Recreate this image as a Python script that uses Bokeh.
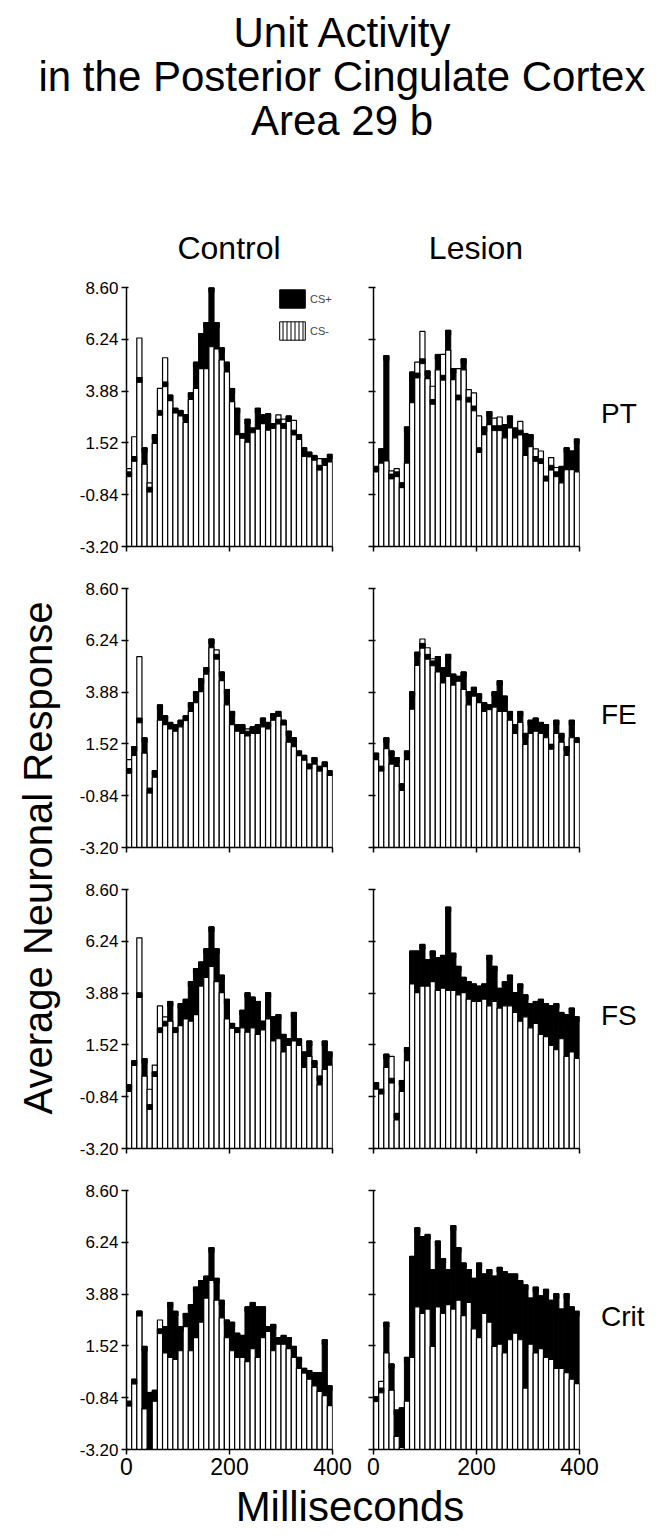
from bokeh.plotting import figure
from bokeh.layouts import column, row
from bokeh.models import (Range1d, FixedTicker, PrintfTickFormatter, CustomJSTickFormatter,
                          Legend, LegendItem, ColumnDataSource, Div)
from bokeh.embed import file_html
from bokeh.resources import INLINE

# ---------------- data (10 ms bins, 0-400 ms) ----------------
bin_centers = [5 + 10 * i for i in range(40)]
y_ticks = [-3.20, -0.84, 1.52, 3.88, 6.24, 8.60]
x_ticks = [0, 200, 400]
title_lines = ["Unit Activity", "in the Posterior Cingulate Cortex", "Area 29 b"]
column_names = ["Control", "Lesion"]
row_names = ["PT", "FE", "FS", "Crit"]
y_title = "Average Neuronal Response"
x_title = "Milliseconds"

pt_control_csplus = [0.2, 0.9, 4.5, 1.3, -0.5, 1.9, 3.0, 4.3, 3.7, 3.1, 3.0, 2.8, 3.8, 5.2, 6.5, 7.0, 8.6, 7.0, 5.85, 5.2,
                     4.0, 3.1, 1.95, 2.6, 2.2, 3.1, 2.8, 2.85, 2.4, 2.6, 2.4, 2.75, 2.1, 1.9, 1.3, 1.1, 0.95, 0.5, 0.8, 1.0]
pt_control_csminus = [0.35, 1.8, 6.3, 0.55, -0.3, 1.5, 4.0, 5.4, 3.45, 2.95, 2.75, 2.45, 3.5, 4.0, 4.9, 4.9, 5.9, 5.8, 5.3, 4.75,
                      3.4, 1.9, 1.8, 1.55, 2.1, 2.15, 2.4, 2.1, 2.4, 2.8, 2.6, 2.5, 2.55, 1.7, 0.9, 0.9, 0.9, 0.8, 0.5, 0.65]
pt_lesion_csplus = [0.45, 1.25, 5.5, 0.1, 0.2, -0.3, 2.25, 4.75, 4.7, 5.35, 4.8, 3.5, 5.55, 4.6, 6.65, 4.9, 3.7, 5.35, 3.6, 3.2,
                    1.3, 2.25, 2.95, 2.3, 2.3, 2.35, 2.75, 2.2, 2.1, 1.95, 1.9, 0.9, 0.8, 0.0, 0.5, 0.2, 0.45, 1.3, 1.15, 1.7]
pt_lesion_csminus = [0.2, 0.6, 0.7, 0.25, 0.35, -0.5, 0.6, 3.35, 5.2, 6.6, 4.45, 4.1, 4.85, 5.55, 5.75, 4.4, 4.9, 4.85, 3.95, 3.8,
                     2.75, 1.9, 2.35, 2.65, 2.7, 1.75, 2.2, 1.75, 2.5, 0.95, 1.35, 1.25, 1.15, -0.1, 0.85, 0.4, -0.3, 0.3, 0.3, 0.2]

fe_control_csplus = [0.4, 1.4, 2.7, 1.8, -0.5, 0.3, 3.3, 2.8, 2.5, 2.4, 2.6, 2.8, 3.4, 3.9, 4.5, 5.0, 6.3, 5.6, 4.8, 4.0,
                     3.0, 2.4, 2.4, 2.1, 2.3, 2.4, 2.7, 2.5, 2.9, 3.0, 2.6, 2.1, 1.8, 1.2, 1.0, 0.6, 0.9, 0.5, 0.7, 0.3]
fe_control_csminus = [0.8, 1.0, 5.5, 1.1, -0.7, 0.0, 2.6, 2.4, 2.2, 2.1, 2.3, 2.6, 3.0, 3.4, 3.9, 4.7, 5.9, 5.8, 4.4, 3.3,
                      2.4, 2.1, 2.0, 2.2, 2.0, 2.0, 2.3, 2.2, 2.6, 2.8, 2.5, 1.6, 1.4, 1.0, 0.8, 0.5, 0.6, 0.3, 0.5, 0.2]
fe_lesion_csplus = [1.1, 0.5, 1.8, 1.2, 0.9, -0.3, 1.2, 3.9, 5.7, 6.1, 5.6, 5.3, 5.5, 5.0, 5.6, 4.7, 4.6, 4.8, 3.9, 4.1,
                    3.8, 3.4, 3.3, 3.9, 4.4, 3.7, 3.0, 2.4, 3.0, 2.0, 2.6, 2.7, 2.5, 2.4, 1.5, 2.6, 2.0, 1.4, 2.6, 1.8]
fe_lesion_csminus = [0.8, 0.4, 1.3, 0.6, 0.5, -0.6, 0.8, 3.1, 5.1, 6.3, 5.9, 5.4, 4.8, 4.3, 4.6, 4.2, 4.4, 4.0, 3.3, 3.7,
                     3.4, 3.0, 3.1, 3.2, 3.0, 3.0, 2.6, 2.0, 2.5, 1.5, 2.0, 2.1, 2.0, 1.8, 1.3, 2.0, 1.6, 1.0, 1.8, 1.7]

fs_control_csplus = [-0.3, 0.8, 3.9, 0.9, -1.2, 0.3, 2.3, 2.6, 3.5, 2.3, 3.4, 3.6, 4.4, 5.0, 5.3, 5.9, 6.9, 5.9, 4.7, 3.6,
                     2.5, 2.3, 3.1, 3.9, 3.7, 3.5, 2.6, 3.9, 2.8, 2.9, 2.0, 1.8, 3.0, 1.8, 1.2, 1.7, 0.8, 0.1, 1.7, 1.2]
fs_control_csminus = [-0.6, 0.6, 6.4, 0.1, -0.5, 0.6, 3.3, 2.8, 2.6, 2.1, 2.4, 2.7, 2.6, 2.9, 4.2, 4.6, 5.1, 4.4, 3.9, 2.7,
                      2.3, 2.1, 2.3, 2.1, 2.3, 2.0, 2.2, 2.7, 1.7, 1.8, 1.2, 1.5, 1.7, 1.5, 0.5, 1.0, 0.5, -0.3, 0.4, 0.6]
fs_lesion_csplus = [-0.2, -0.5, 1.1, 0.0, -1.6, -0.1, 1.4, 5.8, 5.8, 6.1, 5.4, 5.8, 5.5, 5.6, 7.8, 5.7, 5.1, 4.6, 4.4, 4.3,
                    4.2, 4.3, 5.6, 5.1, 4.1, 4.4, 4.7, 3.9, 4.3, 3.8, 3.4, 3.5, 3.6, 3.4, 3.3, 3.4, 3.0, 2.9, 3.2, 2.8]
fs_lesion_csminus = [-0.5, -0.6, 0.5, 1.0, -1.9, -0.6, 0.8, 4.3, 3.9, 4.2, 4.2, 4.4, 4.0, 4.1, 4.0, 4.0, 3.8, 3.9, 3.6, 3.5,
                     3.5, 3.6, 3.3, 3.5, 3.2, 3.3, 3.3, 3.0, 2.6, 2.8, 2.3, 2.5, 2.0, 1.9, 1.5, 1.3, 1.8, 1.0, 1.2, 0.9]

crit_control_csplus = [-1.0, 0.0, 3.1, 1.5, -0.6, -0.5, 2.3, 2.4, 3.5, 3.1, 2.4, 3.0, 3.4, 4.2, 4.5, 4.7, 6.0, 4.6, 3.6, 2.7,
                       2.6, 2.1, 2.0, 3.3, 3.5, 3.3, 3.3, 2.4, 2.5, 1.9, 2.0, 1.9, 1.5, 1.0, 0.5, 0.4, 0.3, 0.3, 1.8, -0.3]
crit_control_csminus = [-1.2, 0.0, 3.1, -1.35, -3.15, -1.0, 2.7, 1.2, 1.0, 0.9, 1.3, 2.4, 1.3, 1.9, 2.6, 3.7, 4.5, 3.6, 2.8, 1.9,
                        1.3, 1.0, 1.0, 0.8, 1.4, 1.0, 1.9, 2.3, 1.3, 1.6, 1.6, 1.4, 1.0, 0.5, 0.3, 0.0, -0.3, -0.55, -0.75, -1.2]
crit_lesion_csplus = [-0.8, -0.4, 2.6, 0.7, -1.4, -1.3, 1.0, 5.6, 6.9, 6.5, 6.6, 5.0, 6.3, 5.5, 5.0, 7.0, 6.0, 5.3, 5.0, 4.6,
                      5.3, 4.8, 5.0, 4.7, 5.1, 4.9, 4.8, 4.8, 4.5, 4.3, 3.7, 4.2, 3.8, 4.1, 3.6, 3.9, 3.2, 3.9, 3.3, 3.1]
crit_lesion_csminus = [-0.9, -0.1, 1.2, -0.5, -2.6, -3.1, -1.0, 1.0, 3.3, 3.0, 3.2, 1.5, 3.3, 3.0, 3.4, 3.2, 3.6, 2.9, 3.5, 2.3,
                       1.9, 3.0, 2.6, 1.5, 1.6, 1.2, 1.8, 2.1, 1.8, -0.4, 1.6, 1.2, 1.4, 1.0, 0.9, 0.5, 0.5, 0.3, 0.0, -0.2]

panels = [
    (pt_control_csplus, pt_control_csminus, pt_lesion_csplus, pt_lesion_csminus),
    (fe_control_csplus, fe_control_csminus, fe_lesion_csplus, fe_lesion_csminus),
    (fs_control_csplus, fs_control_csminus, fs_lesion_csplus, fs_lesion_csminus),
    (crit_control_csplus, crit_control_csminus, crit_lesion_csplus, crit_lesion_csminus),
]

# ---------------- styling / layout ----------------
FONT = "Liberation Sans"
Y0, Y1 = -3.20, 8.60
BIN_W = 10
CAP = 0.22

FRAME_W, FRAME_H = 206, 259
LBL_W = 68
CTRL_L, CTRL_R = 58, 20
LES_L, LES_R = 21, 20
RIGHT_W = 49
HEAD_H = 278
ROW_T, ROW_B, LAST_B = 9, 33, 34
ROW_H = ROW_T + FRAME_H + ROW_B
LAST_H = ROW_T + FRAME_H + LAST_B
FOOT_H = 47
TOTAL_W = LBL_W + (CTRL_L + FRAME_W + CTRL_R) + (LES_L + FRAME_W + LES_R) + RIGHT_W


def txt(text, x, y, size, anchor="center", rotate=0):
    tx = "-50%" if anchor == "center" else "0"
    rot = f" rotate({rotate}deg)" if rotate else ""
    return (f'<div style="position:absolute;left:{x}px;top:{y}px;transform:translate({tx},-50%){rot};'
            f"font-family:'{FONT}',sans-serif;font-size:{size}px;line-height:1;white-space:nowrap;"
            f'color:#000;">{text}</div>')


def text_box(w, h, items):
    html = (f'<div style="position:relative;width:{w}px;height:{h}px;overflow:visible;">'
            + "".join(items) + "</div>")
    return Div(text=html, width=w, height=h, margin=(0, 0, 0, 0), styles={"overflow": "visible"})


def panel(csplus, csminus, is_control, is_bottom, legend=False):
    bl, br = (CTRL_L, CTRL_R) if is_control else (LES_L, LES_R)
    bb = LAST_B if is_bottom else ROW_B
    p = figure(width=bl + FRAME_W + br, height=ROW_T + FRAME_H + bb,
               x_range=Range1d(0, 400), y_range=Range1d(Y0, Y1),
               toolbar_location=None, output_backend="svg",
               min_border_left=bl, min_border_right=br, min_border_top=ROW_T, min_border_bottom=bb,
               outline_line_color=None)
    p.grid.visible = False

    src = ColumnDataSource(dict(x=bin_centers, plus=csplus, minus=csminus,
                                cap=[v - CAP for v in csplus]))
    p.vbar(x="x", top="plus", bottom=Y0, width=BIN_W, source=src,
           fill_color="black", line_color="black", line_width=1)
    p.vbar(x="x", top="minus", bottom=Y0, width=BIN_W, source=src,
           fill_color="white", line_color="black", line_width=1.2)
    p.vbar(x="x", top="plus", bottom="cap", width=BIN_W, source=src,
           fill_color="black", line_color="black", line_width=1)

    yax = p.yaxis[0]
    yax.ticker = FixedTicker(ticks=y_ticks)
    yax.minor_tick_line_color = None
    yax.major_tick_out = 5
    yax.major_tick_in = 2
    yax.axis_line_width = 1.5
    yax.major_tick_line_width = 1.5
    yax.major_label_standoff = 3
    yax.major_label_text_font = FONT
    yax.major_label_text_font_size = "17px"
    yax.major_label_text_color = "black"
    if is_control:
        yax.formatter = PrintfTickFormatter(format="%.2f")
    else:
        yax.formatter = CustomJSTickFormatter(code="return ''")

    xax = p.xaxis[0]
    xax.ticker = FixedTicker(ticks=x_ticks)
    xax.minor_tick_line_color = None
    xax.major_tick_out = 5
    xax.major_tick_in = 0
    xax.axis_line_width = 1.5
    xax.major_tick_line_width = 1.5
    xax.major_label_standoff = 3
    xax.major_label_text_font = FONT
    xax.major_label_text_font_size = "23px"
    xax.major_label_text_color = "black"
    if not is_bottom:
        xax.formatter = CustomJSTickFormatter(code="return ''")

    if legend:
        lg_plus = p.vbar(x="x", top="plus", bottom=Y0, width=BIN_W, source=src,
                         fill_color="black", line_color="black", visible=False)
        lg_minus = p.vbar(x="x", top="minus", bottom=Y0, width=BIN_W, source=src,
                          fill_color="white", line_color="black", line_width=1,
                          hatch_pattern="vertical_line", hatch_scale=4, hatch_weight=1,
                          hatch_color="black", visible=False)
        lg = Legend(items=[LegendItem(label="CS+", renderers=[lg_plus]),
                           LegendItem(label="CS-", renderers=[lg_minus])],
                    location=(150, 204), glyph_width=32, glyph_height=23, spacing=9,
                    padding=0, margin=0, label_standoff=2, label_text_font=FONT,
                    label_text_font_size="11px", label_height=23,
                    border_line_color=None, background_fill_alpha=0)
        p.add_layout(lg, "center")
    return p


# header (title + column names)
ctrl_cx = LBL_W + CTRL_L + FRAME_W / 2
les_cx = LBL_W + CTRL_L + FRAME_W + CTRL_R + LES_L + FRAME_W / 2
head_items = [txt(t, 342, cy, 42) for t, cy in zip(title_lines, [33, 77, 121])]
head_items += [txt(column_names[0], ctrl_cx, 248, 32), txt(column_names[1], les_cx, 248, 32)]
header = text_box(TOTAL_W, HEAD_H, head_items)

rows = []
for k, (cp, cm, lp, lm) in enumerate(panels):
    bottom = (k == 3)
    pc = panel(cp, cm, True, bottom, legend=(k == 0))
    pl = panel(lp, lm, False, bottom)
    h = LAST_H if bottom else ROW_H
    cy = ROW_T + (Y1 - 2.8) / (Y1 - Y0) * FRAME_H
    rl = text_box(RIGHT_W, h, [txt(row_names[k], 2, cy, 28, anchor="left")])
    rows.append(row(pc, pl, rl, spacing=0))

mid_h = 3 * ROW_H + LAST_H
ylab = text_box(LBL_W, mid_h, [txt(y_title, 38, 858 - HEAD_H, 40, rotate=-90)])

footer = text_box(TOTAL_W, FOOT_H, [txt(x_title, 350, 1507 - HEAD_H - mid_h, 42)])

layout = column(header, row(ylab, column(*rows, spacing=0), spacing=0), footer, spacing=0)

open("out.html", "w").write(file_html(layout, INLINE))
